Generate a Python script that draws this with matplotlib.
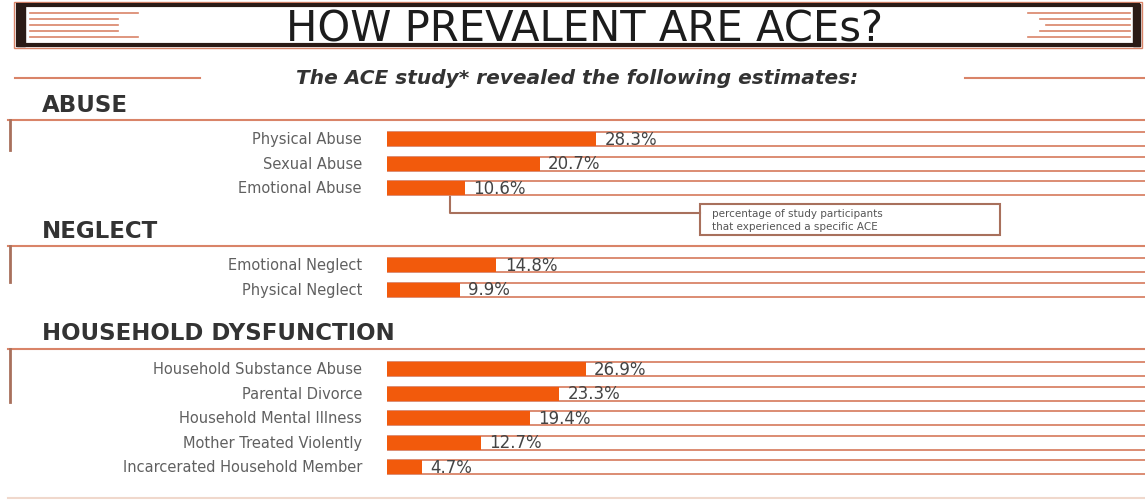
import matplotlib.pyplot as plt
from matplotlib.patches import Rectangle

# ACE study estimates (% of participants)
abuse_labels = ['Physical Abuse', 'Sexual Abuse', 'Emotional Abuse']
abuse_values = [28.3, 20.7, 10.6]
neglect_labels = ['Emotional Neglect', 'Physical Neglect']
neglect_values = [14.8, 9.9]
household_labels = ['Household Substance Abuse', 'Parental Divorce', 'Household Mental Illness',
                    'Mother Treated Violently', 'Incarcerated Household Member']
household_values = [26.9, 23.3, 19.4, 12.7, 4.7]

ORANGE = '#f25a0c'
SALMON = '#d98468'
BROWN = '#a8705c'
DARK = '#2a1b16'

W, H = 1145, 502
fig = plt.figure(figsize=(W / 100, H / 100), dpi=100)
fig.patch.set_facecolor('white')

# background axes in pixel units for the decorations
bg = fig.add_axes([0, 0, 1, 1])
bg.set_xlim(0, W)
bg.set_ylim(H, 0)
bg.axis('off')

# bar axes: x in percent, starting at the bar origin
x0 = 387
px_per_pct = 7.385
ax = fig.add_axes([x0 / W, 0, (W - x0) / W, 1])
ax.set_xlim(0, (W - x0) / px_per_pct)
ax.set_ylim(H, 0)
ax.axis('off')

# title banner
bg.add_patch(Rectangle((14, 3), 1128, 46, fill=False, ec=SALMON, lw=1))
bg.add_patch(Rectangle((18, 6), 1120, 40, fill=False, ec=DARK, lw=3))
bg.add_patch(Rectangle((17, 5), 8, 42, color=DARK))
bg.add_patch(Rectangle((1133, 5), 7, 42, color=DARK))
for y, x_end in zip([14, 20, 26, 32, 38], [138, 118, 118, 118, 138]):
    bg.plot([30, x_end], [y, y], color=SALMON, lw=1.2)
for y, x_start in zip([14, 20, 26, 32, 38], [1028, 1040, 1046, 1040, 1028]):
    bg.plot([x_start, 1130], [y, y], color=SALMON, lw=1.2)
bg.text(584, 41.5, 'HOW PREVALENT ARE ACEs?', ha='center', va='baseline',
        fontsize=30, color='#1c1c1c')

# subtitle with rules on both sides
bg.plot([15, 200], [79, 79], color=SALMON, lw=1.5)
bg.plot([965, W], [79, 79], color=SALMON, lw=1.5)
bg.text(577, 79, 'The ACE study* revealed the following estimates:', ha='center', va='center',
        fontsize=14.5, fontweight='bold', fontstyle='italic', color='#333333')

sections = [
    ('ABUSE', 106, 121, 151, abuse_labels, abuse_values, 140),
    ('NEGLECT', 232, 247, 283, neglect_labels, neglect_values, 266),
    ('HOUSEHOLD DYSFUNCTION', 334, 350, 403, household_labels, household_values, 370),
]
step = 24.5
bar_h = 14

for title, ty, line_y, vline_end, labels, values, first_y in sections:
    bg.text(42, ty, title, ha='left', va='center', fontsize=16.5, fontweight='bold', color='#333333')
    bg.plot([8, W], [line_y, line_y], color=SALMON, lw=1.5)
    bg.plot([10, 10], [line_y, vline_end], color=BROWN, lw=2)
    ys = [first_y + i * step for i in range(len(values))]
    # outline boxes running off to the right edge
    ax.barh(ys, [200] * len(ys), height=bar_h, fill=False, edgecolor=SALMON, lw=1.3)
    ax.barh(ys, values, height=bar_h, color=ORANGE, edgecolor='none')
    for y, lab, v in zip(ys, labels, values):
        bg.text(362, y, lab, ha='right', va='center', fontsize=10.5, color='#606060')
        ax.annotate(f'{v}%', (v, y), xytext=(6, 0), textcoords='offset points',
                    ha='left', va='center', fontsize=12, color='#444444')

bg.plot([8, W], [499, 499], color='#f0d8cc', lw=1.5)

# callout explaining the value labels
bg.plot([450, 450, 700], [197, 214, 214], color=BROWN, lw=1.5)
bg.add_patch(Rectangle((700, 205), 300, 31, fill=False, ec=BROWN, lw=1.5))
bg.text(712, 220.5, 'percentage of study participants\nthat experienced a specific ACE',
        ha='left', va='center', fontsize=7.5, color='#555555', linespacing=1.3)

plt.savefig('out.png', dpi=100)
